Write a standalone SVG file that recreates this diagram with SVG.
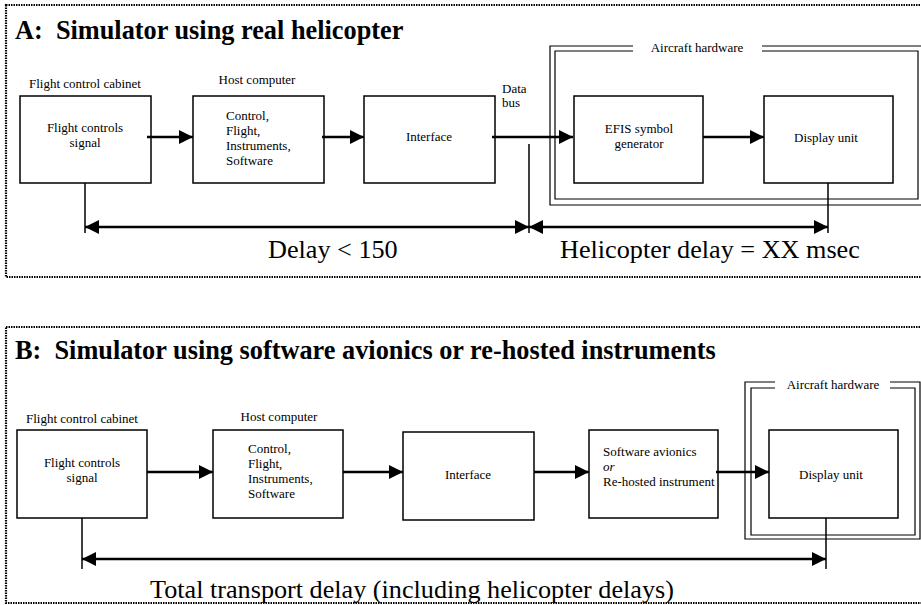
<svg xmlns="http://www.w3.org/2000/svg" width="921" height="605" viewBox="0 0 921 605">
<defs>
<style>
text{font-family:"Liberation Serif","Times New Roman",serif;fill:#000;white-space:pre}
.t{font-size:26.3px;font-weight:bold}
.s{font-size:13px}
.big{font-size:26.2px}
.box{fill:#fff;stroke:#000;stroke-width:1.5}
.frame{fill:none;stroke:#000;stroke-width:1.2}
.panel{fill:none;stroke:#000;stroke-width:2.2;stroke-dasharray:1.5 1}
.arr{stroke:#000;stroke-width:2.5;fill:none}
.tick{stroke:#000;stroke-width:1.5;fill:none}
</style>
<marker id="ah" markerUnits="userSpaceOnUse" markerWidth="15" markerHeight="15" refX="14" refY="7" orient="auto-start-reverse" viewBox="0 0 15 15">
<path d="M0,0 L14,7 L0,14 z" fill="#000"/>
</marker>
</defs>
<rect width="921" height="605" fill="#fff"/>

<!-- Panel A -->
<g id="panelA">
<rect class="panel" x="6" y="5" width="925" height="272"/>
<text class="t" x="15" y="39">A:  Simulator using real helicopter</text>
</g>
<g id="hwA">
<path class="frame" d="M633,46 H550 V205 H925 M762,46 H925"/>
<path class="frame" d="M633,51 H555 V199 H918 V51 H762"/>
<text class="s" x="697" y="52" text-anchor="middle">Aircraft hardware</text>
</g>
<g id="a_fcc">
<text class="s" x="85" y="88" text-anchor="middle">Flight control cabinet</text>
<rect class="box" x="20" y="96" width="131" height="87"/>
<text class="s" x="85" y="132" text-anchor="middle">Flight controls</text>
<text class="s" x="85" y="147" text-anchor="middle">signal</text>
</g>
<g id="a_host">
<text class="s" x="257" y="84" text-anchor="middle">Host computer</text>
<rect class="box" x="193" y="96" width="131" height="87"/>
<text class="s" x="226" y="120">Control,</text>
<text class="s" x="226" y="135">Flight,</text>
<text class="s" x="226" y="150">Instruments,</text>
<text class="s" x="226" y="165">Software</text>
</g>
<g id="a_iface">
<rect class="box" x="364" y="96" width="131" height="87"/>
<text class="s" x="429" y="141" text-anchor="middle">Interface</text>
</g>
<g id="a_databus">
<text class="s" x="502" y="93">Data</text>
<text class="s" x="502" y="107">bus</text>
</g>
<g id="a_efis">
<rect class="box" x="574" y="96" width="129" height="87"/>
<text class="s" x="639" y="133" text-anchor="middle">EFIS symbol</text>
<text class="s" x="639" y="148" text-anchor="middle">generator</text>
</g>
<g id="a_display">
<rect class="box" x="764" y="96" width="129" height="87"/>
<text class="s" x="826" y="142" text-anchor="middle">Display unit</text>
</g>

<!-- Panel B -->
<g id="panelB">
<rect class="panel" x="6" y="327" width="925" height="276"/>
<text class="t" x="15" y="359">B:  Simulator using software avionics or re-hosted instruments</text>
</g>
<g id="hwB">
<path class="frame" d="M775,382 H745 V539 H920 V382 H890"/>
<path class="frame" d="M775,388 H751 V535 H915 V388 H890"/>
<text class="s" x="833" y="389" text-anchor="middle">Aircraft hardware</text>
</g>
<g id="b_fcc">
<text class="s" x="82" y="423" text-anchor="middle">Flight control cabinet</text>
<rect class="box" x="17" y="430" width="130" height="88"/>
<text class="s" x="82" y="467" text-anchor="middle">Flight controls</text>
<text class="s" x="82" y="482" text-anchor="middle">signal</text>
</g>
<g id="b_host">
<text class="s" x="279" y="421" text-anchor="middle">Host computer</text>
<rect class="box" x="213" y="430" width="130" height="88"/>
<text class="s" x="248" y="453">Control,</text>
<text class="s" x="248" y="468">Flight,</text>
<text class="s" x="248" y="483">Instruments,</text>
<text class="s" x="248" y="498">Software</text>
</g>
<g id="b_iface">
<rect class="box" x="403" y="432" width="131" height="88"/>
<text class="s" x="468" y="479" text-anchor="middle">Interface</text>
</g>
<g id="b_soft">
<rect class="box" x="589" y="430" width="129" height="88"/>
<text class="s" x="603" y="456">Software avionics</text>
<text class="s" x="603" y="471" font-style="italic">or</text>
<text class="s" x="603" y="486">Re-hosted instrument</text>
</g>
<g id="b_display">
<rect class="box" x="769" y="430" width="129" height="88"/>
<text class="s" x="831" y="479" text-anchor="middle">Display unit</text>
</g>

<!-- Connectors -->
<g id="connectors">
<line class="arr" x1="147" y1="137" x2="193" y2="137" marker-end="url(#ah)"/>
<line class="arr" x1="322" y1="137" x2="364" y2="137" marker-end="url(#ah)"/>
<line class="arr" x1="492" y1="137" x2="573" y2="137" marker-end="url(#ah)"/>
<line class="arr" x1="703" y1="137" x2="764" y2="137" marker-end="url(#ah)"/>
<line class="tick" x1="85" y1="183" x2="85" y2="233"/>
<line class="tick" x1="529" y1="144" x2="529" y2="233"/>
<line class="tick" x1="828" y1="183" x2="828" y2="233"/>
<line class="arr" x1="85" y1="227" x2="529" y2="227" marker-start="url(#ah)" marker-end="url(#ah)"/>
<line class="arr" x1="529" y1="227" x2="828" y2="227" marker-start="url(#ah)" marker-end="url(#ah)"/>

<line class="arr" x1="147" y1="472" x2="213" y2="472" marker-end="url(#ah)"/>
<line class="arr" x1="343" y1="472" x2="403" y2="472" marker-end="url(#ah)"/>
<line class="arr" x1="534" y1="472" x2="589" y2="472" marker-end="url(#ah)"/>
<line class="arr" x1="716" y1="472" x2="769" y2="472" marker-end="url(#ah)"/>
<line class="tick" x1="82" y1="518" x2="82" y2="569"/>
<line class="tick" x1="826" y1="518" x2="826" y2="569"/>
<line class="arr" x1="82" y1="559" x2="826" y2="559" marker-start="url(#ah)" marker-end="url(#ah)"/>
</g>

<g id="labels">
<text class="big" x="268" y="258">Delay &lt; 150</text>
<text class="big" x="560" y="258">Helicopter delay = XX msec</text>
<text class="big" x="150" y="598">Total transport delay (including helicopter delays)</text>
</g>
</svg>
